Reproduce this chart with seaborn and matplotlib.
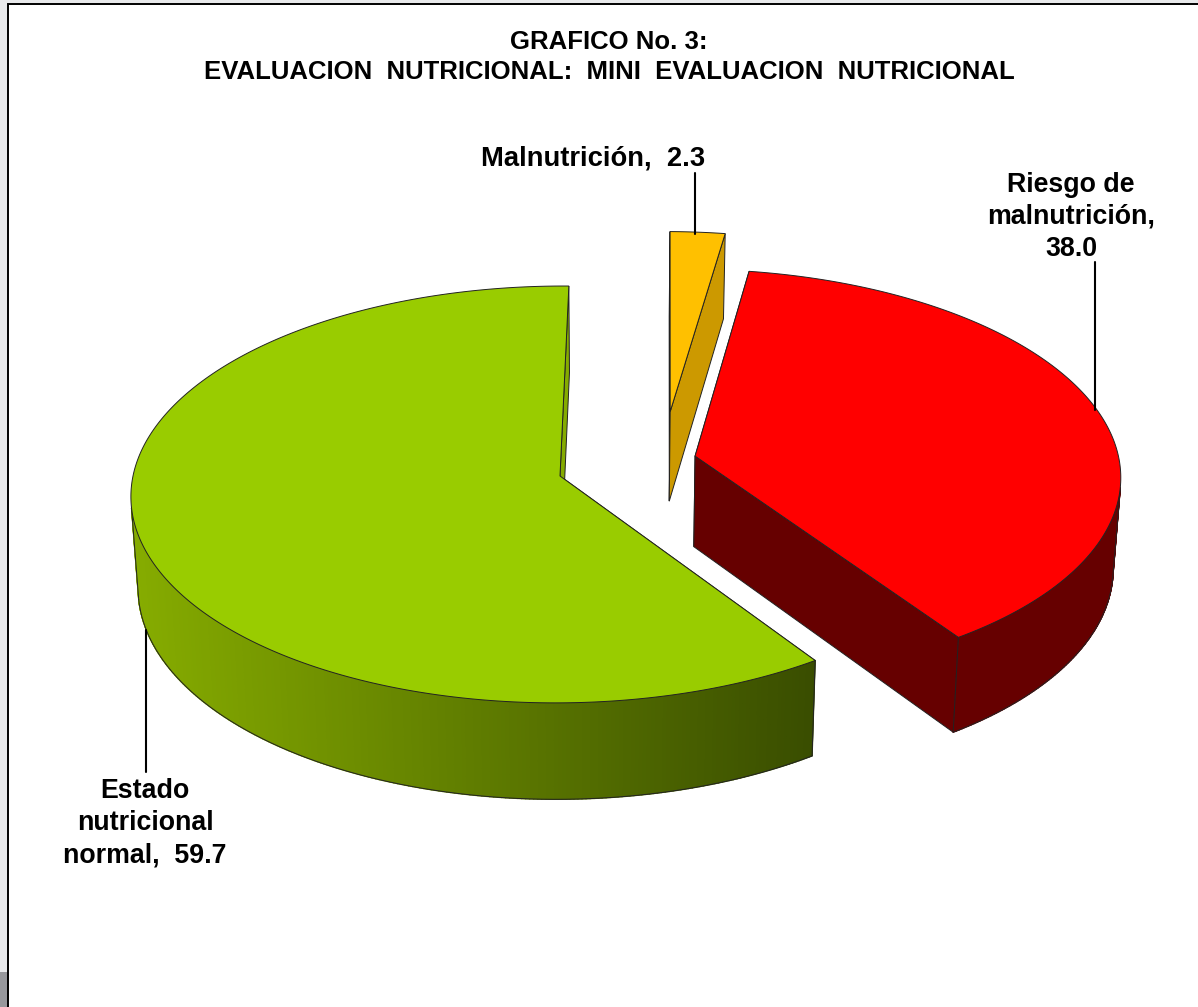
import numpy as np
import seaborn as sns
from matplotlib import pyplot as plt
from matplotlib.collections import PolyCollection
from matplotlib.patches import Polygon, Rectangle

# slices clockwise from the top, like the original chart
categories = ['Malnutrición', 'Riesgo de\nmalnutrición', 'Estado\nnutricional\nnormal']
values = [2.3, 38.0, 59.7]
title = 'GRAFICO No. 3:\nEVALUACION  NUTRICIONAL:  MINI  EVALUACION  NUTRICIONAL'

top_colors = ['#FFC000', '#FF0000', '#99CC00']
face_colors = ['#CC9900', '#660000', '#85AB00']
rim_colors = [['#CC9900', '#CC9900'], ['#660000', '#660000'], ['#86AC00', '#394D00']]
explode_x = [0.262, 0.318, 0.0]
explode_y = [0.32, 0.097, 0.0]

# camera of the fake 3d pie, in pixels
center_x, center_y = 560, 476
vanish_x = 610
radius_x, radius_y = 427, 206.8
distance = 11.3
depth = 91
shrink = 0.985
start_angle = 0.7


def project(x, y, z=0):
    s = distance / (distance + y)
    sx = vanish_x + (x * radius_x + center_x - vanish_x) * s
    sy = center_y - y * radius_y * s
    if z:
        sx = vanish_x + (sx - vanish_x) * shrink
        sy = center_y + (sy - center_y) * shrink + depth * s
    return sx, sy


def draw_slice(ax, a0, a1, ox, oy, top, face, rim, order):
    angles = np.radians(np.linspace(a0, a1, int((a1 - a0) * 2) + 2))
    xs = ox + np.sin(angles)
    ys = oy + np.cos(angles)
    apex_top = project(ox, oy)
    apex_low = project(ox, oy, 1)
    arc_top = np.column_stack(project(xs, ys))
    arc_low = np.column_stack(project(xs, ys, 1))

    for i in [0, -1]:
        ax.add_patch(Polygon([apex_top, arc_top[i], arc_low[i], apex_low], fc=face, ec='#222222', lw=0.7, zorder=order))

    # only the part of the rim that faces the viewer
    front = np.where(np.cos(angles) < -0.15)[0]
    if len(front) > 1:
        palette = sns.blend_palette(rim, 256)
        quads = []
        colors = []
        for i in front[:-1]:
            quads.append([arc_top[i], arc_top[i + 1], arc_low[i + 1], arc_low[i]])
            pos = (arc_top[i, 0] - 130) / (817 - 130)
            colors.append(palette[int(np.clip(pos, 0, 1) * 255)])
        ax.add_collection(PolyCollection(quads, facecolors=colors, edgecolors=colors, linewidths=1.0, zorder=order + 1))
        ax.plot(arc_low[front, 0], arc_low[front, 1], color='#222222', lw=0.7, zorder=order + 2)
        for i in [front[0], front[-1]]:
            ax.plot([arc_top[i, 0], arc_low[i, 0]], [arc_top[i, 1], arc_low[i, 1]], color='#222222', lw=0.7, zorder=order + 2)

    ax.add_patch(Polygon(np.vstack([[apex_top], arc_top]), fc=top, ec='#222222', lw=0.7, zorder=order + 3))


sns.set_theme(style='white')
plt.rcParams['font.family'] = ['Liberation Sans', 'DejaVu Sans']

fig = plt.figure(figsize=(11.98, 10.07), dpi=100, facecolor='#E8E9EB')
ax = fig.add_axes([0, 0, 1, 1])
ax.set_xlim(0, 1198)
ax.set_ylim(1007, 0)
ax.axis('off')

ax.add_patch(Rectangle((0, 972), 8, 35, fc='#97989C', ec='none'))
ax.add_patch(Rectangle((8, 4), 1200, 1010, fc='white', ec='black', lw=1.4))

angle = start_angle
spans = []
for v in values:
    spans.append((angle, angle + v * 3.6))
    angle += v * 3.6

# far slices first, the green one is in front
for n, i in enumerate([2, 0, 1]):
    draw_slice(ax, spans[i][0], spans[i][1], explode_x[i], explode_y[i],
               top_colors[i], face_colors[i], rim_colors[i], 5 + n * 5)

for lx, y0, y1 in [(695, 173, 234), (1095, 262, 410), (146, 630, 772)]:
    ax.plot([lx, lx], [y0, y1], color='black', lw=1.5, zorder=30)

txt = dict(ha='center', va='center', fontweight='bold', color='black', fontsize=19.3, linespacing=1.31, zorder=31)
ax.text(593.5, 159, f'{categories[0]},  {values[0]:.1f}', **{**txt, 'fontsize': 19.7})
ax.text(1071, 217, f'{categories[1]},\n{values[1]:.1f}', **txt)
ax.text(145, 823, f'{categories[2]},  {values[2]:.1f}', **txt)
ax.text(609, 57, title, ha='center', va='center', fontweight='bold', color='black', fontsize=18.5, linespacing=1.33, zorder=31)

fig.savefig('out.png', dpi=100, facecolor=fig.get_facecolor())
